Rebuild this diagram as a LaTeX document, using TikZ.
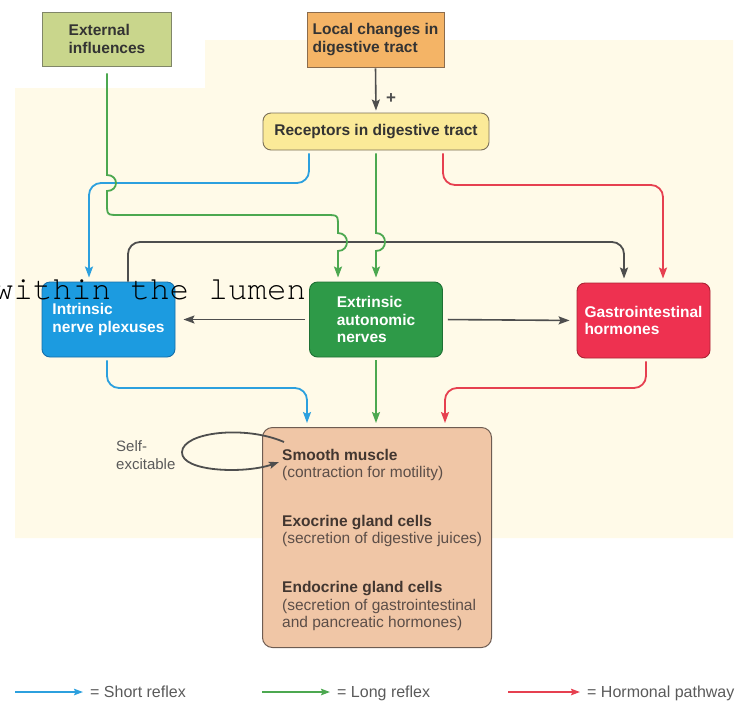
\documentclass[tikz,border=0pt]{standalone}
\usepackage{fontspec}
\setmainfont{Liberation Sans}
\newfontfamily\monofnt{TeX Gyre Cursor}
\usetikzlibrary{arrows.meta}

% fills and strokes
\definecolor{paper}{RGB}{255,250,232}
\definecolor{extfill}{RGB}{201,214,140}
\definecolor{extdraw}{RGB}{128,134,104}
\definecolor{locfill}{RGB}{244,180,102}
\definecolor{locdraw}{RGB}{140,108,76}
\definecolor{recfill}{RGB}{251,234,152}
\definecolor{recdraw}{RGB}{122,112,90}
\definecolor{intfill}{RGB}{28,155,224}
\definecolor{intdraw}{RGB}{22,110,170}
\definecolor{extrfill}{RGB}{46,154,72}
\definecolor{extrdraw}{RGB}{30,112,52}
\definecolor{gifill}{RGB}{238,49,80}
\definecolor{gidraw}{RGB}{170,36,52}
\definecolor{efffill}{RGB}{240,198,166}
\definecolor{effdraw}{RGB}{110,92,82}
\definecolor{inkdark}{RGB}{51,51,51}
\definecolor{inktitle}{RGB}{66,54,48}
\definecolor{inksub}{RGB}{92,78,72}
\definecolor{inkgray}{RGB}{90,90,90}
\definecolor{lnblue}{RGB}{44,160,222}
\definecolor{lngreen}{RGB}{76,168,80}
\definecolor{lnred}{RGB}{230,64,80}
\definecolor{lngray}{RGB}{78,78,78}

\tikzset{
  lbl/.style={font=\bfseries\fontsize{15.5}{17.5}\selectfont, align=left, inner sep=0pt},
  sqbox/.style={lbl, draw, line width=0.9pt, text=inkdark},
  rbox/.style={lbl, draw, line width=0.9pt, rounded corners=8pt},
  link/.style={line width=1.8pt, rounded corners=12pt, -{Stealth[length=11pt,width=8pt,inset=2pt]}, shorten <=3pt, shorten >=4pt},
  greenlink/.style={link, draw=lngreen, sharp corners},
  redlink/.style={link, draw=lnred},
  graylink/.style={link, draw=lngray},
  efftitle/.style={font=\bfseries\fontsize{15.5}{17}\selectfont, text=inktitle, inner sep=0pt, anchor=base west},
  effsub/.style={font=\fontsize{15.5}{17}\selectfont, text=inksub, inner sep=0pt, anchor=base west},
  selftxt/.style={font=\fontsize{15}{17}\selectfont, text=inkgray, inner sep=0pt, anchor=base west},
  legtxt/.style={font=\fontsize{16}{18}\selectfont, text=inkgray, inner sep=0pt, anchor=base west},
  legline/.style={line width=1.6pt, -{Stealth[length=9pt,width=6.5pt,inset=1.5pt]}, shorten >=7pt}
}

\begin{document}
\begin{tikzpicture}[x=1pt,y=-1pt]
\useasboundingbox (0,0) rectangle (743,702);

% page tint behind the chart
\fill[paper] (15,88) -- (205,88) -- (205,40) -- (733,40) -- (733,538) -- (15,538) -- cycle;

% sources
\node[sqbox, fill=extfill, draw=extdraw, minimum width=129pt, minimum height=54pt] (ext) at (107,39) {External\\influences};
\node[sqbox, fill=locfill, draw=locdraw, minimum width=137pt, minimum height=55pt] (loc) at (375.5,39.5) {Local changes in\\digestive tract};
\node[rbox, fill=recfill, draw=recdraw, text=inkdark, minimum width=226pt, minimum height=37pt] (rec) at (376,131.5) {Receptors in digestive tract};

% nerves and hormones
\node[rbox, fill=intfill, draw=intdraw, text=white, minimum width=133pt, minimum height=75pt] (int) at (108.5,319.5) {Intrinsic\\nerve plexuses};
\node[rbox, fill=extrfill, draw=extrdraw, text=white, minimum width=133pt, minimum height=75pt] (extr) at (376,319.5) {Extrinsic\\autonomic\\nerves};
\node[rbox, fill=gifill, draw=gidraw, text=white, minimum width=133pt, minimum height=75pt] (gi) at (643.5,320.5) {Gastrointestinal\\hormones};

% effector cells
\node[draw=effdraw, fill=efffill, line width=1pt, rounded corners=10pt, minimum width=229pt, minimum height=220pt, inner sep=0pt] (eff) at (377,537.5) {};
\node[efftitle] (smA) at (282,460) {Smooth muscle};
\node[effsub]   (smB) at (282,477) {(contraction for motility)};
\node[efftitle] (exA) at (282,526) {Exocrine gland cells};
\node[effsub]   (exB) at (282,543) {(secretion of digestive juices)};
\node[efftitle] (enA) at (282,592) {Endocrine gland cells};
\node[effsub]   (enB) at (282,610) {(secretion of gastrointestinal};
\node[effsub]   (enC) at (282,627) {and pancreatic hormones)};

\node[selftxt] (selfA) at (116,451) {Self-};
\node[selftxt] (selfB) at (116,469) {excitable};

% stimulus into the receptors
\draw[graylink, line width=1.6pt, shorten <=1pt, shorten >=2pt] (loc.south) -- (rec.south |- rec.north);
\node[font=\bfseries\fontsize{17}{17}\selectfont, text=lngray, inner sep=0pt] (plus) at (391,99) {+};

% intrinsic plexus to hormones, and extrinsic outputs
\draw[graylink, shorten <=0pt] ([xshift=19.5pt]int.north) -- (128,242) -- (624,242) -- ([xshift=-19.5pt]gi.north);
\draw[graylink, line width=1.6pt, shorten <=4pt, shorten >=8pt] (extr.west) -- (int.east);
\draw[graylink, line width=1.6pt, shorten <=5pt, shorten >=7pt] (extr.east) -- (gi.west);

% short reflex
\draw[link, draw=lnblue] ([xshift=-67pt]rec.south) -- (309,183) -- (89,183) -- ([xshift=-19.5pt]int.north);
\draw[link, draw=lnblue] ([xshift=-1.5pt]int.south) -- (107,388) -- (307,388) -- ([xshift=-70pt]eff.north);

% hormonal pathway
\draw[redlink] ([xshift=67pt]rec.south) -- (443,185) -- (663,185) -- ([xshift=19.5pt]gi.north);
\draw[redlink] ([xshift=2.5pt]gi.south) -- (646,388) -- (445,388) -- ([xshift=68pt]eff.north);

% long reflex, hopping over the lines it crosses
\draw[greenlink] ([yshift=-4pt]ext.south) -- (107,175)
  .. controls (119,175) and (119,191) .. (107,191)
  -- (107,203) .. controls (107,215) .. (119,215)
  -- (326,215) .. controls (338,215) .. (338,227)
  -- (338,233) .. controls (350,233) and (350,251) .. (338,251)
  -- ([xshift=-38pt]extr.north);
\draw[greenlink] (rec.south) -- (376,233)
  .. controls (388,233) and (388,251) .. (376,251)
  -- (extr.north);
\draw[greenlink] (extr.south) -- (extr.south |- eff.north);

% self-excitation loop
\coordinate (loopS) at (284,442);
\coordinate (loopE) at (279,462);
\draw[line width=1.8pt, draw=lngray, -{Stealth[length=10pt,width=7pt,inset=2pt]}] (loopS) .. controls (245,425) and (183,432) .. (182,452) .. controls (181,472) and (245,474) .. (loopE);

% overprinted caption
\node[font=\monofnt\fontsize{32.5}{34}\selectfont, text=black, inner sep=0pt, anchor=base west] (lumen) at (-6,299) {within the lumen};

% key
\node[legtxt] (lgS) at (90,697) {= Short reflex};
\node[legtxt] (lgL) at (337,697) {= Long reflex};
\node[legtxt] (lgH) at (587,697) {= Hormonal pathway};
\coordinate (lgSs) at (15,692);
\coordinate (lgLs) at (262,692);
\coordinate (lgHs) at (508,692);
\draw[legline, draw=lnblue] (lgSs) -- (lgSs -| lgS.west);
\draw[legline, draw=lngreen] (lgLs) -- (lgLs -| lgL.west);
\draw[legline, draw=lnred] (lgHs) -- (lgHs -| lgH.west);
\end{tikzpicture}
\end{document}
